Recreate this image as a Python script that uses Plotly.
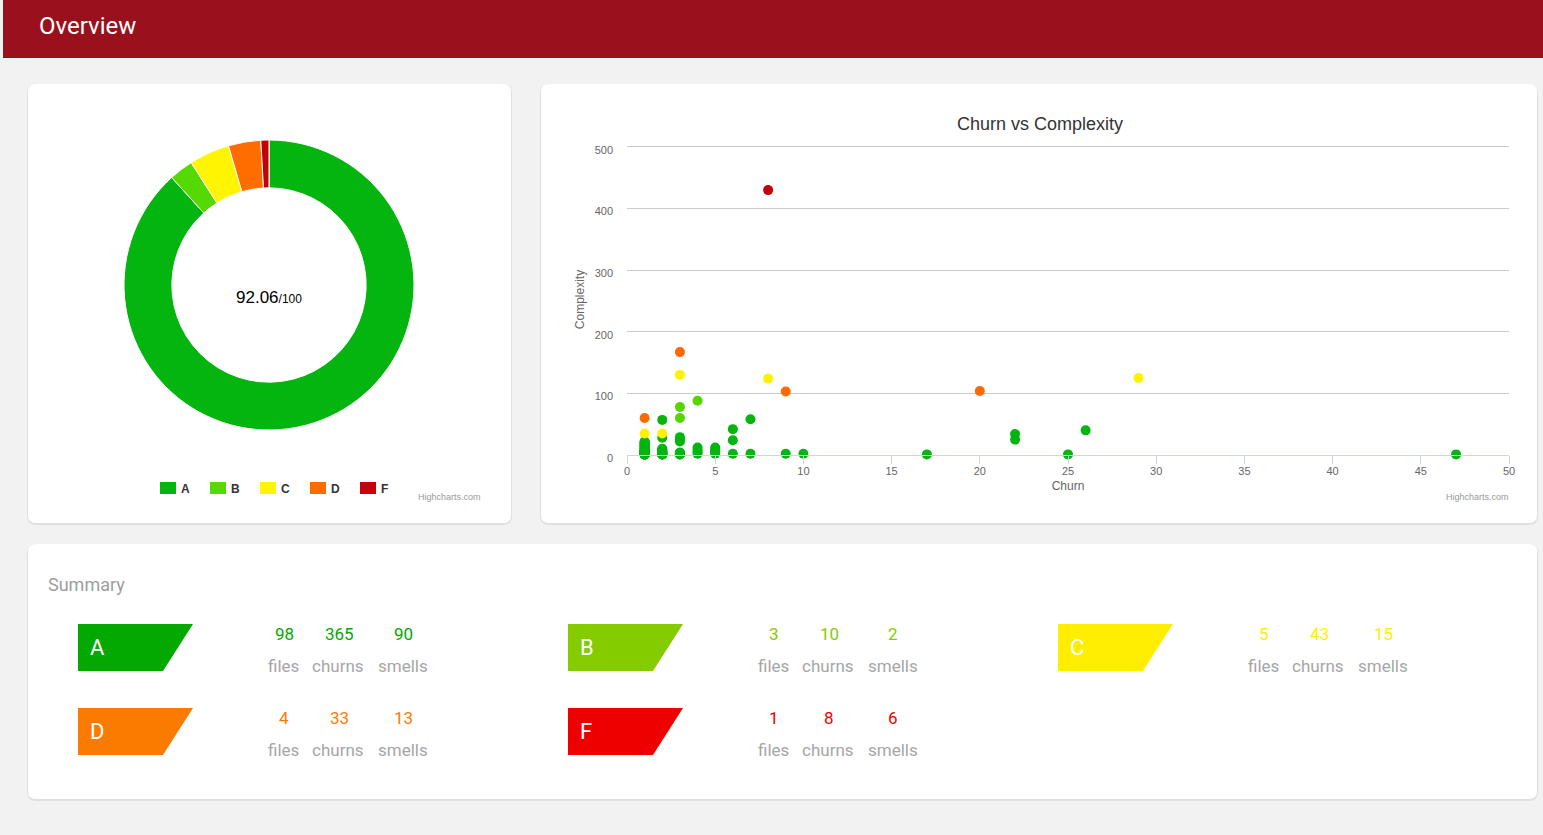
import plotly.graph_objects as go

W, H = 1543, 835

# ---------------- data ----------------
grades = ["A", "B", "C", "D", "F"]
files = [98, 3, 5, 4, 1]
churns = [365, 10, 43, 33, 8]
smells = [90, 2, 15, 13, 6]
score = "92.06"

pie_colors = ["#04b510", "#55d900", "#fff500", "#ff6d00", "#c4000a"]
dot_colors = ["#03b50f", "#55d600", "#fff200", "#ff6a00", "#c4000b"]
badge_colors = ["#03a800", "#84cc00", "#ffee00", "#fa7b00", "#ee0000"]

a_churn = ([1] * 47 + [2] * 20 + [3] * 9 + [4] * 4 + [5] * 5 +
           [6, 6, 6, 7, 7, 9, 10, 17, 22, 22, 25, 26, 47])
a_complexity = ([1, 1, 1, 1, 1, 1, 1, 1, 1, 1, 2, 2, 2, 2, 2, 2, 2, 3, 3, 3, 3, 4, 4, 4,
                 5, 5, 5, 6, 6, 7, 7, 8, 8, 9, 10, 11, 12, 13, 14, 15, 16, 17, 18, 19, 20, 21, 22] +
                [1, 1, 1, 1, 2, 2, 2, 3, 3, 4, 4, 5, 5, 6, 7, 8, 9, 10, 28, 57] +
                [1, 1, 2, 2, 3, 4, 22, 25, 29] +
                [2, 5, 8, 12] +
                [2, 4, 6, 9, 12] +
                [2, 24, 42, 2, 58, 2, 2, 1, 25, 34, 1, 40, 1])
b_churn = [3, 3, 4]
b_complexity = [60, 78, 88]
c_churn = [1, 2, 3, 8, 29]
c_complexity = [35, 35, 130, 124, 125]
d_churn = [1, 3, 9, 20]
d_complexity = [60, 167, 103, 104]
f_churn = [8]
f_complexity = [430]

series_churn = [a_churn, b_churn, c_churn, d_churn, f_churn]
series_complexity = [a_complexity, b_complexity, c_complexity, d_complexity, f_complexity]


def X(px):
    return px / W


def Y(py):
    return 1 - py / H


def rrect(x0, y0, x1, y1, r):
    return (f"M {X(x0 + r)},{Y(y0)} L {X(x1 - r)},{Y(y0)} Q {X(x1)},{Y(y0)} {X(x1)},{Y(y0 + r)} "
            f"L {X(x1)},{Y(y1 - r)} Q {X(x1)},{Y(y1)} {X(x1 - r)},{Y(y1)} "
            f"L {X(x0 + r)},{Y(y1)} Q {X(x0)},{Y(y1)} {X(x0)},{Y(y1 - r)} "
            f"L {X(x0)},{Y(y0 + r)} Q {X(x0)},{Y(y0)} {X(x0 + r)},{Y(y0)} Z")


def note(text, px, py, size, color, family="Roboto", anchor="center"):
    return dict(text=text, x=X(px), y=Y(py), xref="paper", yref="paper",
                xanchor=anchor, yanchor="middle", showarrow=False,
                font=dict(family=family, size=size, color=color))


fig = go.Figure()

# donut
fig.add_trace(go.Pie(
    labels=grades, values=files, sort=False, direction="clockwise", rotation=0,
    hole=0.67, marker=dict(colors=pie_colors, line=dict(color="white", width=1)),
    textinfo="none", showlegend=False,
    domain=dict(x=[X(124), X(414)], y=[Y(430), Y(140)]),
))

# scatter
for g, cx, cy, col in zip(grades, series_churn, series_complexity, dot_colors):
    fig.add_trace(go.Scatter(
        x=cx, y=cy, mode="markers", name=g, showlegend=False, cliponaxis=False,
        marker=dict(color=col, size=10, line=dict(width=0)),
    ))

shapes = []
ann = []

# header
shapes.append(dict(type="rect", xref="paper", yref="paper", x0=X(3), x1=X(W), y0=Y(58), y1=Y(0),
                   fillcolor="#9a111e", line=dict(width=0), layer="below"))
ann.append(note("Overview", 37, 26, 24, "white", anchor="left"))

# cards
for (x0, y0, x1, y1) in [(28, 84, 511, 523), (541, 84, 1537, 523), (28, 544, 1537, 799)]:
    shapes.append(dict(type="path", xref="paper", yref="paper", path=rrect(x0 - 1, y0, x1 + 1, y1 + 2, 9),
                       fillcolor="rgba(0,0,0,0.07)", line=dict(width=0), layer="below"))
    shapes.append(dict(type="path", xref="paper", yref="paper", path=rrect(x0, y0, x1, y1, 8),
                       fillcolor="white", line=dict(width=0), layer="below"))

# donut center text
ann.append(note(f"{score}<span style='font-size:12px'>/100</span>", 269, 297, 17, "#000000",
                family="Liberation Sans"))

# pie legend
for i, (g, col) in enumerate(zip(grades, pie_colors)):
    lx = 160 + 50 * i
    shapes.append(dict(type="rect", xref="paper", yref="paper", x0=X(lx), x1=X(lx + 16),
                       y0=Y(494), y1=Y(482), fillcolor=col, line=dict(width=0), layer="below"))
    ann.append(note(f"<b>{g}</b>", lx + 19, 488.5, 12, "#333333", family="Liberation Sans", anchor="left"))

# credits
for cx in [483, 1511]:
    ann.append(note("Highcharts.com", cx, 497, 9, "#999999", family="Liberation Sans", anchor="right"))

# scatter title
ann.append(note("Churn vs Complexity", 1040, 124, 18, "#333333", family="Liberation Sans"))

# summary
ann.append(note("Summary", 46, 584, 18, "#9e9e9e", anchor="left"))

positions = [(78, 624), (568, 624), (1058, 624), (78, 708), (568, 708)]
for g, f, c, s, bc, (bx, by) in zip(grades, files, churns, smells, badge_colors, positions):
    path = (f"M {X(bx)},{Y(by)} L {X(bx + 115)},{Y(by)} L {X(bx + 85)},{Y(by + 47)} "
            f"L {X(bx)},{Y(by + 47)} Z")
    shapes.append(dict(type="path", xref="paper", yref="paper", path=path, fillcolor=bc,
                       line=dict(width=0), layer="below"))
    ann.append(note(g, bx + 10, by + 23, 22, "white", anchor="left"))
    for dx, ldx, val, lab in [(206, 205, f, "files"), (261, 260, c, "churns"), (325, 325, s, "smells")]:
        ann.append(note(str(val), bx + dx, by + 10, 17, bc))
        ann.append(note(lab, bx + ldx, by + 42, 17, "#a6a6a6"))

fig.update_layout(
    width=W, height=H, margin=dict(l=0, r=0, t=0, b=0, pad=0), autosize=False,
    paper_bgcolor="#f2f2f2", plot_bgcolor="rgba(0,0,0,0)",
    shapes=shapes, annotations=ann,
    xaxis=dict(domain=[X(627), X(1509)], range=[0, 50], dtick=5, tick0=0, automargin=False,
               ticks="outside", ticklen=8, tickcolor="#ccd6eb", tickwidth=1, ticklabelstandoff=-2,
               showline=True, linecolor="#ccd6eb", linewidth=1, showgrid=False, zeroline=False,
               tickfont=dict(family="Liberation Sans", size=11, color="#666666"),
               title=dict(text="Churn", standoff=5,
                          font=dict(family="Liberation Sans", size=12, color="#666666"))),
    yaxis=dict(domain=[Y(455), Y(143.9)], range=[0, 505], tickvals=[0, 100, 200, 300, 400, 500],
               automargin=False,
               showgrid=True, gridcolor="#cccccc", gridwidth=1, zeroline=False, showline=False,
               ticks="", ticklabelstandoff=13, ticklabelshift=3,
               tickfont=dict(family="Liberation Sans", size=11, color="#666666"),
               title=dict(text="Complexity", standoff=7,
                          font=dict(family="Liberation Sans", size=12, color="#666666"))),
    font=dict(family="Liberation Sans"),
)

fig.write_html("out.html")
